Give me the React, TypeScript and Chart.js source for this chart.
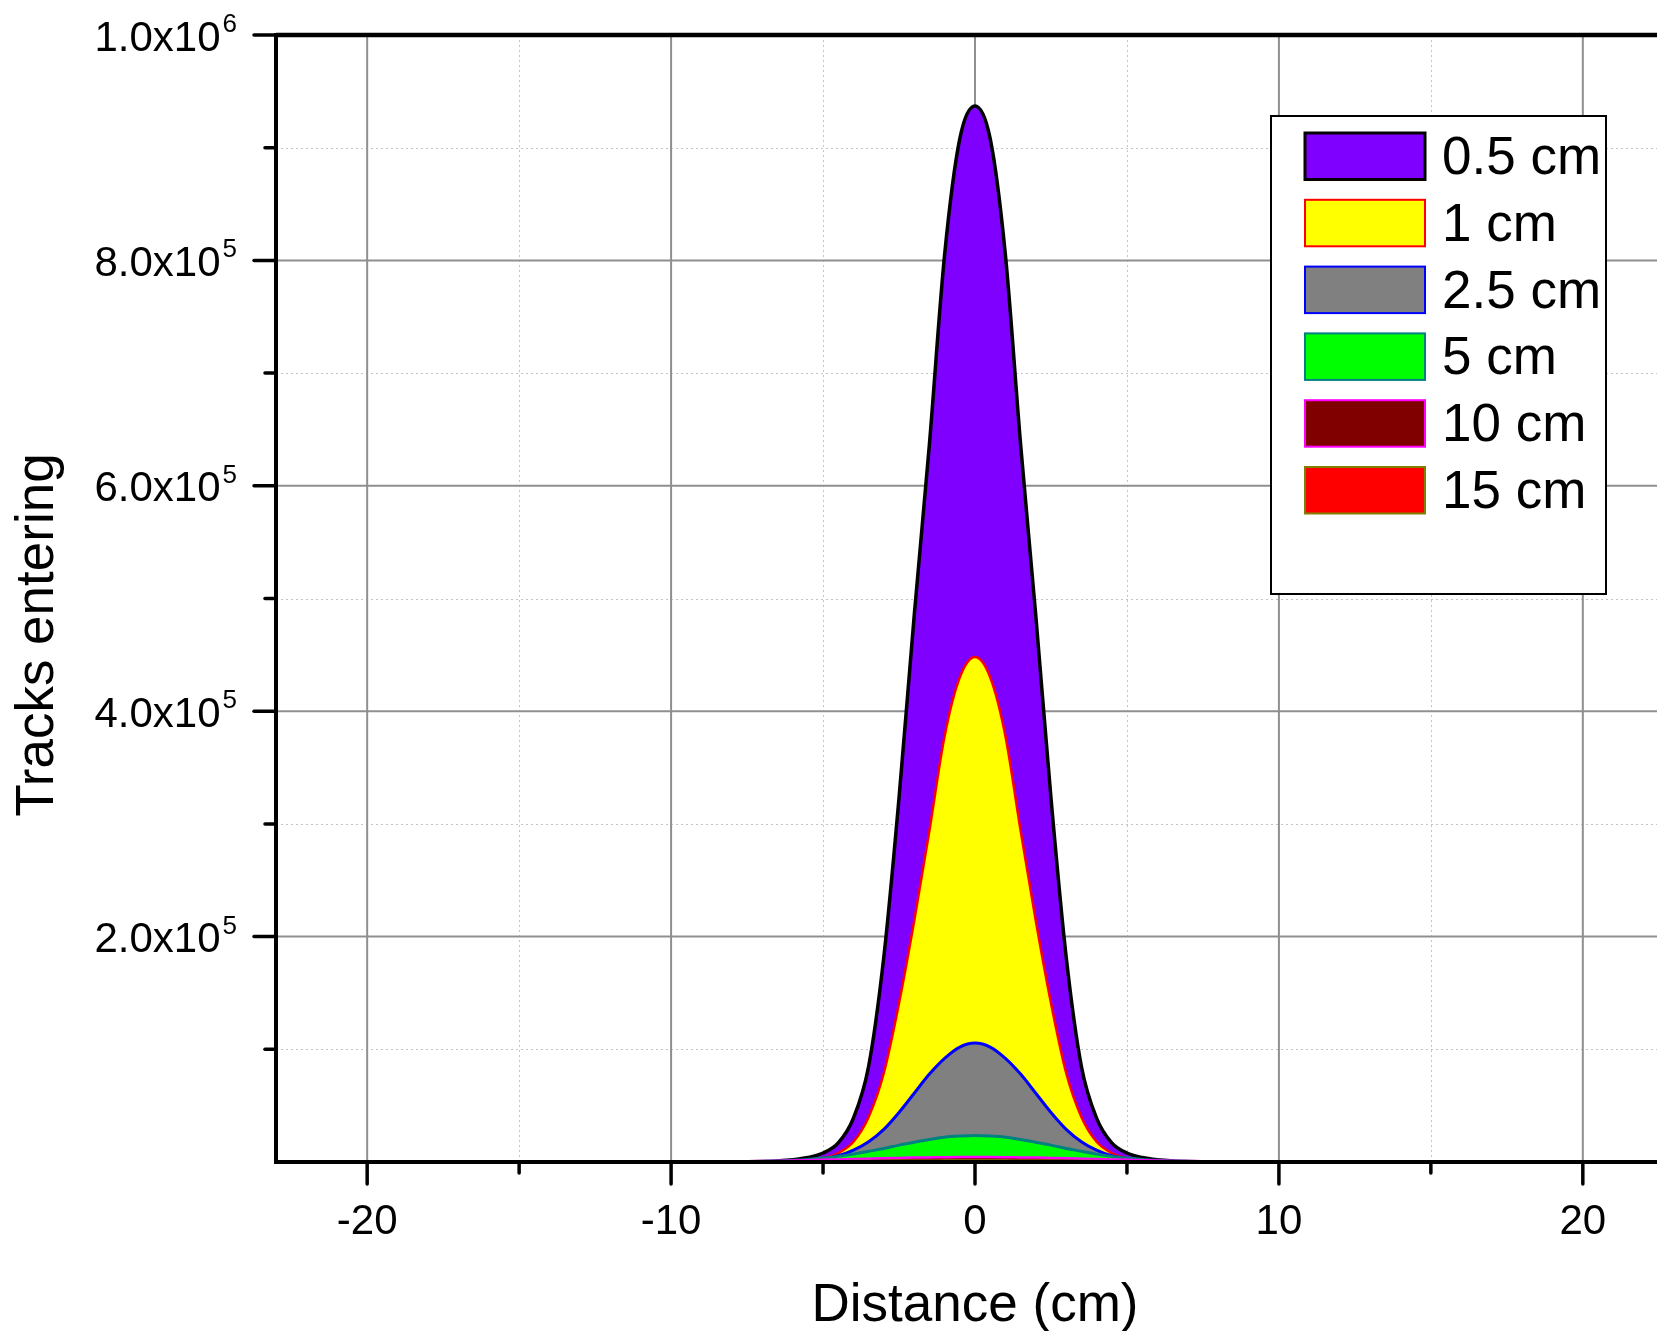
import React, { useEffect, useRef } from "react";
import { Chart, registerables } from "chart.js";

Chart.register(...registerables);

const FONT = '"Liberation Sans", Arial, Helvetica, sans-serif';

// Distance (cm) sample positions
const distances = [
  -9, -8.5, -8, -7.5, -7, -6.5, -6, -5.5, -5, -4.5, -4, -3.5, -3, -2.5, -2, -1.5, -1, -0.5,
  0, 0.5, 1, 1.5, 2, 2.5, 3, 3.5, 4, 4.5, 5, 5.5, 6, 6.5, 7, 7.5, 8, 8.5, 9,
];

// Tracks entering, per absorber thickness
const tracks05 = [
  0, 50, 100, 250, 500, 1000, 2000, 4000, 8000, 17000, 39000, 85000, 182000, 323000, 485000, 637000, 805000, 908000,
  937000, 908000, 805000, 637000, 485000, 323000, 182000, 85000, 39000, 17000, 8000, 4000, 2000, 1000, 500, 250, 100, 50, 0,
];
const tracks1 = [
  0, 20, 40, 80, 150, 300, 700, 1500, 3500, 8000, 18000, 40000, 79000, 141000, 214000, 294000, 378000, 430000,
  448000, 430000, 378000, 294000, 214000, 141000, 79000, 40000, 18000, 8000, 3500, 1500, 700, 300, 150, 80, 40, 20, 0,
];
const tracks25 = [
  0, 20, 40, 80, 150, 350, 700, 1400, 2800, 5500, 10500, 18000, 29000, 44000, 61000, 78000, 92000, 102000,
  105500, 102000, 92000, 78000, 61000, 44000, 29000, 18000, 10500, 5500, 2800, 1400, 700, 350, 150, 80, 40, 20, 0,
];
const tracks5 = [
  30, 80, 150, 300, 550, 900, 1500, 2300, 3500, 5000, 7000, 9500, 12000, 15000, 17500, 20000, 22000, 23000,
  23500, 23000, 22000, 20000, 17500, 15000, 12000, 9500, 7000, 5000, 3500, 2300, 1500, 900, 550, 300, 150, 80, 30,
];
const tracks10 = [
  200, 300, 450, 600, 800, 1050, 1300, 1600, 1900, 2250, 2600, 2950, 3300, 3600, 3900, 4100, 4300, 4450,
  4500, 4450, 4300, 4100, 3900, 3600, 3300, 2950, 2600, 2250, 1900, 1600, 1300, 1050, 800, 600, 450, 300, 200,
];
const tracks15 = [
  120, 180, 250, 320, 400, 500, 600, 700, 800, 900, 1000, 1100, 1200, 1280, 1350, 1400, 1450, 1480,
  1500, 1480, 1450, 1400, 1350, 1280, 1200, 1100, 1000, 900, 800, 700, 600, 500, 400, 320, 250, 180, 120,
];

const seriesLabels = ["0.5 cm", "1 cm", "2.5 cm", "5 cm", "10 cm", "15 cm"];
const seriesFill = ["#8000FF", "#FFFF00", "#808080", "#00FF00", "#800000", "#FF0000"];
const seriesLine = ["#000000", "#FF0000", "#0000FF", "#008080", "#FF00FF", "#808000"];
const seriesWidth = [3.5, 2.5, 3, 3, 2.5, 2];

// Axis ticks
const xMajorTicks = [-20, -10, 0, 10, 20];
const xMinorTicks = [-15, -5, 5, 15];
const xTickLabels = ["-20", "-10", "0", "10", "20"];
const yMajorTicks = [200000, 400000, 600000, 800000, 1000000];
const yMinorTicks = [100000, 300000, 500000, 700000, 900000];
const yTickBase = ["2.0x10", "4.0x10", "6.0x10", "8.0x10", "1.0x10"];
const yTickExp = ["5", "5", "5", "5", "6"];

const xTitle = "Distance (cm)";
const yTitle = "Tracks entering";

const originPlugin = {
  id: "originStyle",
  beforeDatasetsDraw(chart: any) {
    const { ctx, chartArea, scales } = chart;
    const x = scales.x;
    const y = scales.y;
    ctx.save();
    // minor dotted grid
    ctx.strokeStyle = "#c4c4c4";
    ctx.lineWidth = 1;
    ctx.setLineDash([2, 3]);
    for (const v of xMinorTicks) {
      const p = Math.round(x.getPixelForValue(v)) + 0.5;
      ctx.beginPath();
      ctx.moveTo(p, chartArea.top);
      ctx.lineTo(p, chartArea.bottom);
      ctx.stroke();
    }
    for (const v of yMinorTicks) {
      const p = Math.round(y.getPixelForValue(v)) + 0.5;
      ctx.beginPath();
      ctx.moveTo(chartArea.left, p);
      ctx.lineTo(chartArea.right, p);
      ctx.stroke();
    }
    // major solid grid
    ctx.setLineDash([]);
    ctx.strokeStyle = "#8f8f8f";
    ctx.lineWidth = 2;
    for (const v of xMajorTicks) {
      const p = x.getPixelForValue(v);
      ctx.beginPath();
      ctx.moveTo(p, chartArea.top);
      ctx.lineTo(p, chartArea.bottom);
      ctx.stroke();
    }
    for (const v of yMajorTicks) {
      const p = y.getPixelForValue(v);
      ctx.beginPath();
      ctx.moveTo(chartArea.left, p);
      ctx.lineTo(chartArea.right, p);
      ctx.stroke();
    }
    ctx.restore();
  },
  afterDatasetsDraw(chart: any) {
    const { ctx, chartArea, scales } = chart;
    const x = scales.x;
    const y = scales.y;
    const L = chartArea.left;
    const B = chartArea.bottom;
    const T = chartArea.top;
    ctx.save();
    ctx.strokeStyle = "#000";
    ctx.lineCap = "butt";
    // frame
    ctx.lineWidth = 4.5;
    ctx.beginPath();
    ctx.moveTo(L, T);
    ctx.lineTo(chartArea.right, T);
    ctx.stroke();
    ctx.lineWidth = 4;
    ctx.beginPath();
    ctx.moveTo(L, T - 2);
    ctx.lineTo(L, B);
    ctx.stroke();
    ctx.beginPath();
    ctx.moveTo(L - 2, B);
    ctx.lineTo(chartArea.right, B);
    ctx.stroke();
    // ticks
    ctx.lineCap = "round";
    ctx.lineWidth = 3.5;
    for (const v of xMajorTicks) {
      const p = x.getPixelForValue(v);
      ctx.beginPath();
      ctx.moveTo(p, B);
      ctx.lineTo(p, B + 22);
      ctx.stroke();
    }
    for (const v of xMinorTicks) {
      const p = x.getPixelForValue(v);
      ctx.beginPath();
      ctx.moveTo(p, B);
      ctx.lineTo(p, B + 11);
      ctx.stroke();
    }
    for (const v of yMajorTicks) {
      const p = y.getPixelForValue(v);
      ctx.beginPath();
      ctx.moveTo(L, p);
      ctx.lineTo(L - 22, p);
      ctx.stroke();
    }
    for (const v of yMinorTicks) {
      const p = y.getPixelForValue(v);
      ctx.beginPath();
      ctx.moveTo(L, p);
      ctx.lineTo(L - 11, p);
      ctx.stroke();
    }
    // x tick labels
    ctx.fillStyle = "#000";
    ctx.font = `42px ${FONT}`;
    ctx.textAlign = "center";
    ctx.textBaseline = "alphabetic";
    xMajorTicks.forEach((v, i) => {
      ctx.fillText(xTickLabels[i], x.getPixelForValue(v), B + 72);
    });
    // y tick labels with superscript exponents
    const labelRight = L - 39;
    yMajorTicks.forEach((v, i) => {
      const p = y.getPixelForValue(v);
      ctx.textAlign = "right";
      ctx.font = `26px ${FONT}`;
      ctx.fillText(yTickExp[i], labelRight, p - 3);
      const ew = ctx.measureText(yTickExp[i]).width;
      ctx.font = `42px ${FONT}`;
      ctx.fillText(yTickBase[i], labelRight - ew - 2, p + 15.5);
    });
    // titles
    ctx.font = `53px ${FONT}`;
    ctx.textAlign = "center";
    ctx.fillText(xTitle, x.getPixelForValue(0), 1321);
    ctx.save();
    ctx.translate(53, 635);
    ctx.rotate(-Math.PI / 2);
    ctx.fillText(yTitle, 0, 0);
    ctx.restore();
    // legend
    const bx = 1271, by = 116, bw = 335, bh = 478;
    ctx.fillStyle = "#fff";
    ctx.fillRect(bx, by, bw, bh);
    ctx.lineWidth = 2;
    ctx.lineCap = "butt";
    ctx.strokeStyle = "#000";
    ctx.strokeRect(bx, by, bw, bh);
    chart.data.datasets.forEach((ds: any, i: number) => {
      const top = 133 + i * 66.8;
      ctx.fillStyle = ds.backgroundColor;
      ctx.fillRect(1305, top, 120, 46.5);
      ctx.strokeStyle = ds.borderColor;
      ctx.lineWidth = i === 0 ? 3 : 2;
      ctx.strokeRect(1305, top, 120, 46.5);
      ctx.fillStyle = "#000";
      ctx.font = `53px ${FONT}`;
      ctx.textAlign = "left";
      ctx.fillText(ds.label, 1442, top + 41);
    });
    ctx.restore();
  },
};

const allSeries = [tracks05, tracks1, tracks25, tracks5, tracks10, tracks15];

export default function App() {
  const ref = useRef<HTMLCanvasElement>(null);
  useEffect(() => {
    if (!ref.current) return;
    const chart = new Chart(ref.current, {
      type: "line",
      data: {
        datasets: allSeries.map((s, k) => ({
          label: seriesLabels[k],
          data: distances.map((d, i) => ({ x: d, y: s[i] })),
          backgroundColor: seriesFill[k],
          borderColor: seriesLine[k],
          borderWidth: seriesWidth[k],
          fill: "origin",
          pointRadius: 0,
          cubicInterpolationMode: "monotone",
          order: allSeries.length - k,
        })),
      },
      options: {
        responsive: false,
        animation: false,
        layout: { padding: { left: 276, right: 6, top: 35, bottom: 169 } },
        plugins: {
          legend: { display: false },
          tooltip: { enabled: false },
        },
        scales: {
          x: { type: "linear", min: -23, max: 23, display: false },
          y: { type: "linear", min: 0, max: 1000000, display: false },
        },
      },
      plugins: [originPlugin],
    } as any);
    return () => chart.destroy();
  }, []);
  return (
    <div
      style={{
        position: "fixed",
        left: 0,
        top: 0,
        width: 1657,
        height: 1331,
        overflow: "hidden",
        background: "#fff",
      }}
    >
      <canvas ref={ref} width={1680} height={1331} style={{ display: "block" }} />
    </div>
  );
}
